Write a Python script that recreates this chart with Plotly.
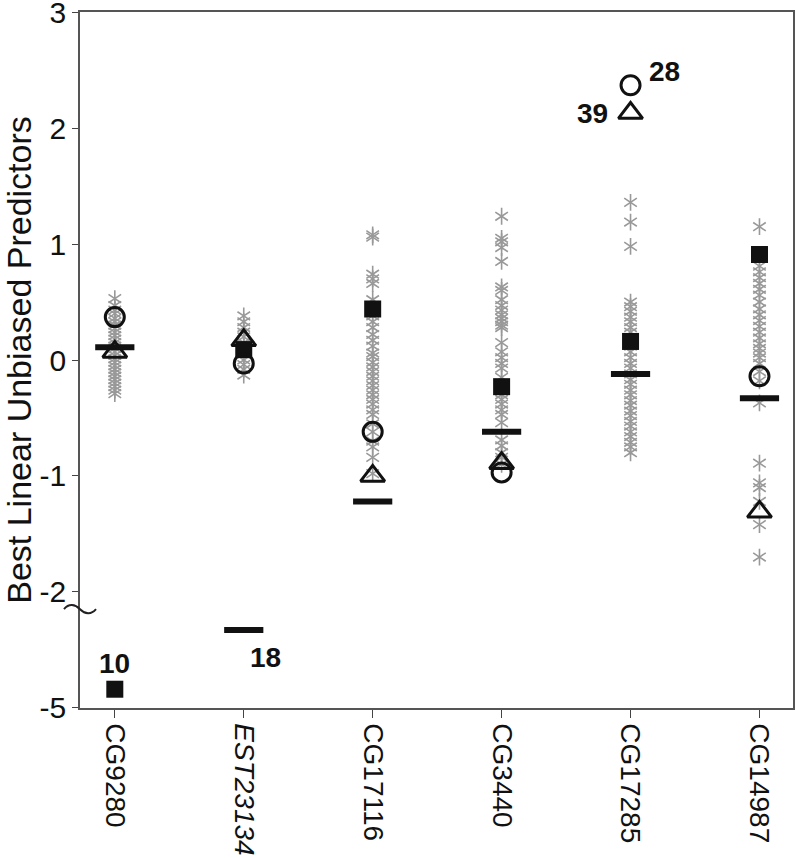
import plotly.graph_objects as go

# genes on the x axis
genes = ['CG9280', 'EST23134', 'CG17116', 'CG3440', 'CG17285', 'CG14987']
gene_labels = ['CG9280', '<i>EST23134</i>', 'CG17116', 'CG3440', 'CG17285', 'CG14987']

# grey asterisks: BLUPs of individual lines, per gene
stars_cg9280 = [0.53, 0.47, 0.43, 0.40, 0.36, 0.33, 0.30, 0.27, 0.24, 0.21, 0.18, 0.15, 0.12,
                0.10, 0.07, 0.04, 0.01, -0.02, -0.05, -0.08, -0.11, -0.14, -0.17, -0.20,
                -0.23, -0.26, -0.29]
stars_est23134 = [0.38, 0.33, 0.28, 0.24, 0.20, 0.15, 0.10, 0.05, 0.00, -0.04, -0.08, -0.13]
stars_cg17116 = [1.08, 1.06, 0.74, 0.70, 0.66, 0.52, 0.47, 0.38, 0.33, 0.28, 0.22, 0.17, 0.12,
                 0.06, 0.03, -0.02, -0.06, -0.10, -0.14, -0.18, -0.22, -0.26, -0.30, -0.34,
                 -0.38, -0.43, -0.47, -0.55, -0.62, -0.70, -0.75, -0.84, -0.98]
stars_cg3440 = [1.24, 1.05, 1.02, 0.97, 0.85, 0.63, 0.60, 0.52, 0.47, 0.43, 0.39, 0.36, 0.33,
                0.30, 0.28, 0.15, 0.07, 0.02, -0.03, -0.07, -0.15, -0.30, -0.34, -0.38,
                -0.43, -0.47, -0.54, -0.69, -0.74, -0.80, -0.84, -0.90]
stars_cg17285 = [1.36, 1.19, 0.98, 0.50, 0.46, 0.42, 0.37, 0.33, 0.28, 0.24, 0.19, 0.12, 0.07,
                 0.02, -0.03, -0.07, -0.12, -0.17, -0.21, -0.26, -0.30, -0.35, -0.39, -0.44,
                 -0.48, -0.53, -0.57, -0.62, -0.66, -0.71, -0.75, -0.80]
stars_cg14987 = [1.15, 0.81, 0.76, 0.71, 0.66, 0.61, 0.56, 0.50, 0.44, 0.39, 0.34, 0.29, 0.24,
                 0.19, 0.14, 0.10, 0.06, 0.02, -0.03, -0.10, -0.18, -0.37, -0.89, -1.06,
                 -1.10, -1.22, -1.42, -1.70]
stars = [stars_cg9280, stars_est23134, stars_cg17116, stars_cg3440, stars_cg17285, stars_cg14987]

# highlighted lines, one value per gene
square_vals = [-4.84, 0.09, 0.44, -0.23, 0.16, 0.91]
circle_vals = [0.37, -0.03, -0.62, -0.97, 2.37, -0.14]
triangle_vals = [0.07, 0.17, -1.0, -0.89, 2.13, -1.31]
dash_vals = [0.11, -4.33, -1.22, -0.62, -0.12, -0.33]

# line numbers written next to some points: (gene, series, text)
point_labels = [('CG9280', 'square', '10'), ('EST23134', 'dash', '18'),
                ('CG17285', 'circle', '28'), ('CG17285', 'triangle', '39')]

y_tickvals = [-5, -2, -1, 0, 1, 2, 3]


# the y axis is broken below -2: the -5 region is drawn just under it
def broken(v):
    return v + 2 if v < -2.5 else v


FONT = 'Liberation Sans, Arial, sans-serif'
fig = go.Figure()

sx, sy = [], []
for i, vals in enumerate(stars):
    sx += [i] * len(vals)
    sy += [broken(v) for v in vals]
for sym in ['y-up-open', 'y-down-open']:
    fig.add_trace(go.Scatter(
        x=sx, y=sy, mode='markers', showlegend=False,
        marker=dict(symbol=sym, size=10.5, color='#999999',
                    line=dict(color='#999999', width=1.6))
    ))

xs = list(range(len(genes)))
series = {
    'square': (square_vals, dict(symbol='square', size=17, color='#111111',
                                 line=dict(width=0))),
    'circle': (circle_vals, dict(symbol='circle-open', size=19, color='#111111',
                                 line=dict(color='#111111', width=3))),
    'triangle': (triangle_vals, dict(symbol='triangle-up-open', size=21, color='#111111',
                                     line=dict(color='#111111', width=3))),
    'dash': (dash_vals, dict(symbol='line-ew-open', size=28, color='#111111',
                             line=dict(color='#111111', width=6))),
}
for name, (vals, marker) in series.items():
    fig.add_trace(go.Scatter(
        x=xs, y=[broken(v) for v in vals], mode='markers', name=name,
        showlegend=False, marker=marker
    ))

label_offsets = {'10': (0, 26), '18': (22, -27), '28': (34, 14), '39': (-38, 0)}
for gene, name, text in point_labels:
    i = genes.index(gene)
    dx, dy = label_offsets[text]
    fig.add_annotation(
        x=i, y=broken(series[name][0][i]), text='<b>%s</b>' % text, showarrow=False,
        xshift=dx, yshift=dy, font=dict(family=FONT, size=28, color='#111111')
    )

# break mark on the y axis
fig.add_shape(
    type='path', xref='paper', yref='y', xsizemode='pixel', ysizemode='pixel',
    xanchor=0, yanchor=-2.15,
    path='M-16,0 C-11,6 -5,5 0,0 C5,-5 11,-6 16,0',
    line=dict(color='#222222', width=2)
)

fig.update_layout(
    width=797, height=858,
    margin=dict(l=80, r=4, t=12, b=150),
    plot_bgcolor='white', paper_bgcolor='white',
    font=dict(family=FONT, color='#111111'),
    xaxis=dict(
        range=[-0.27, 5.26], tickvals=xs, ticktext=gene_labels, tickangle=90,
        tickfont=dict(size=28), ticks='outside', ticklen=8, tickcolor='#444444',
        showline=True, linecolor='#555555', linewidth=1.5, mirror=True,
        showgrid=False, zeroline=False, automargin=False
    ),
    yaxis=dict(
        range=[-3.002, 3.002], tickvals=[broken(v) for v in y_tickvals],
        ticktext=[str(v) for v in y_tickvals], ticklabeloverflow='allow',
        tickfont=dict(size=30), ticks='outside', ticklen=6, tickcolor='#444444',
        showline=True, linecolor='#555555', linewidth=1.5, mirror=True,
        showgrid=False, zeroline=False, automargin=False,
        title=dict(text='Best Linear Unbiased Predictors', font=dict(size=34), standoff=2)
    ),
)

# the page's default 8px body margin would push the figure off its window
fig.write_html("out.html", config={'displayModeBar': False},
               post_script="document.body.style.margin = '0';")
